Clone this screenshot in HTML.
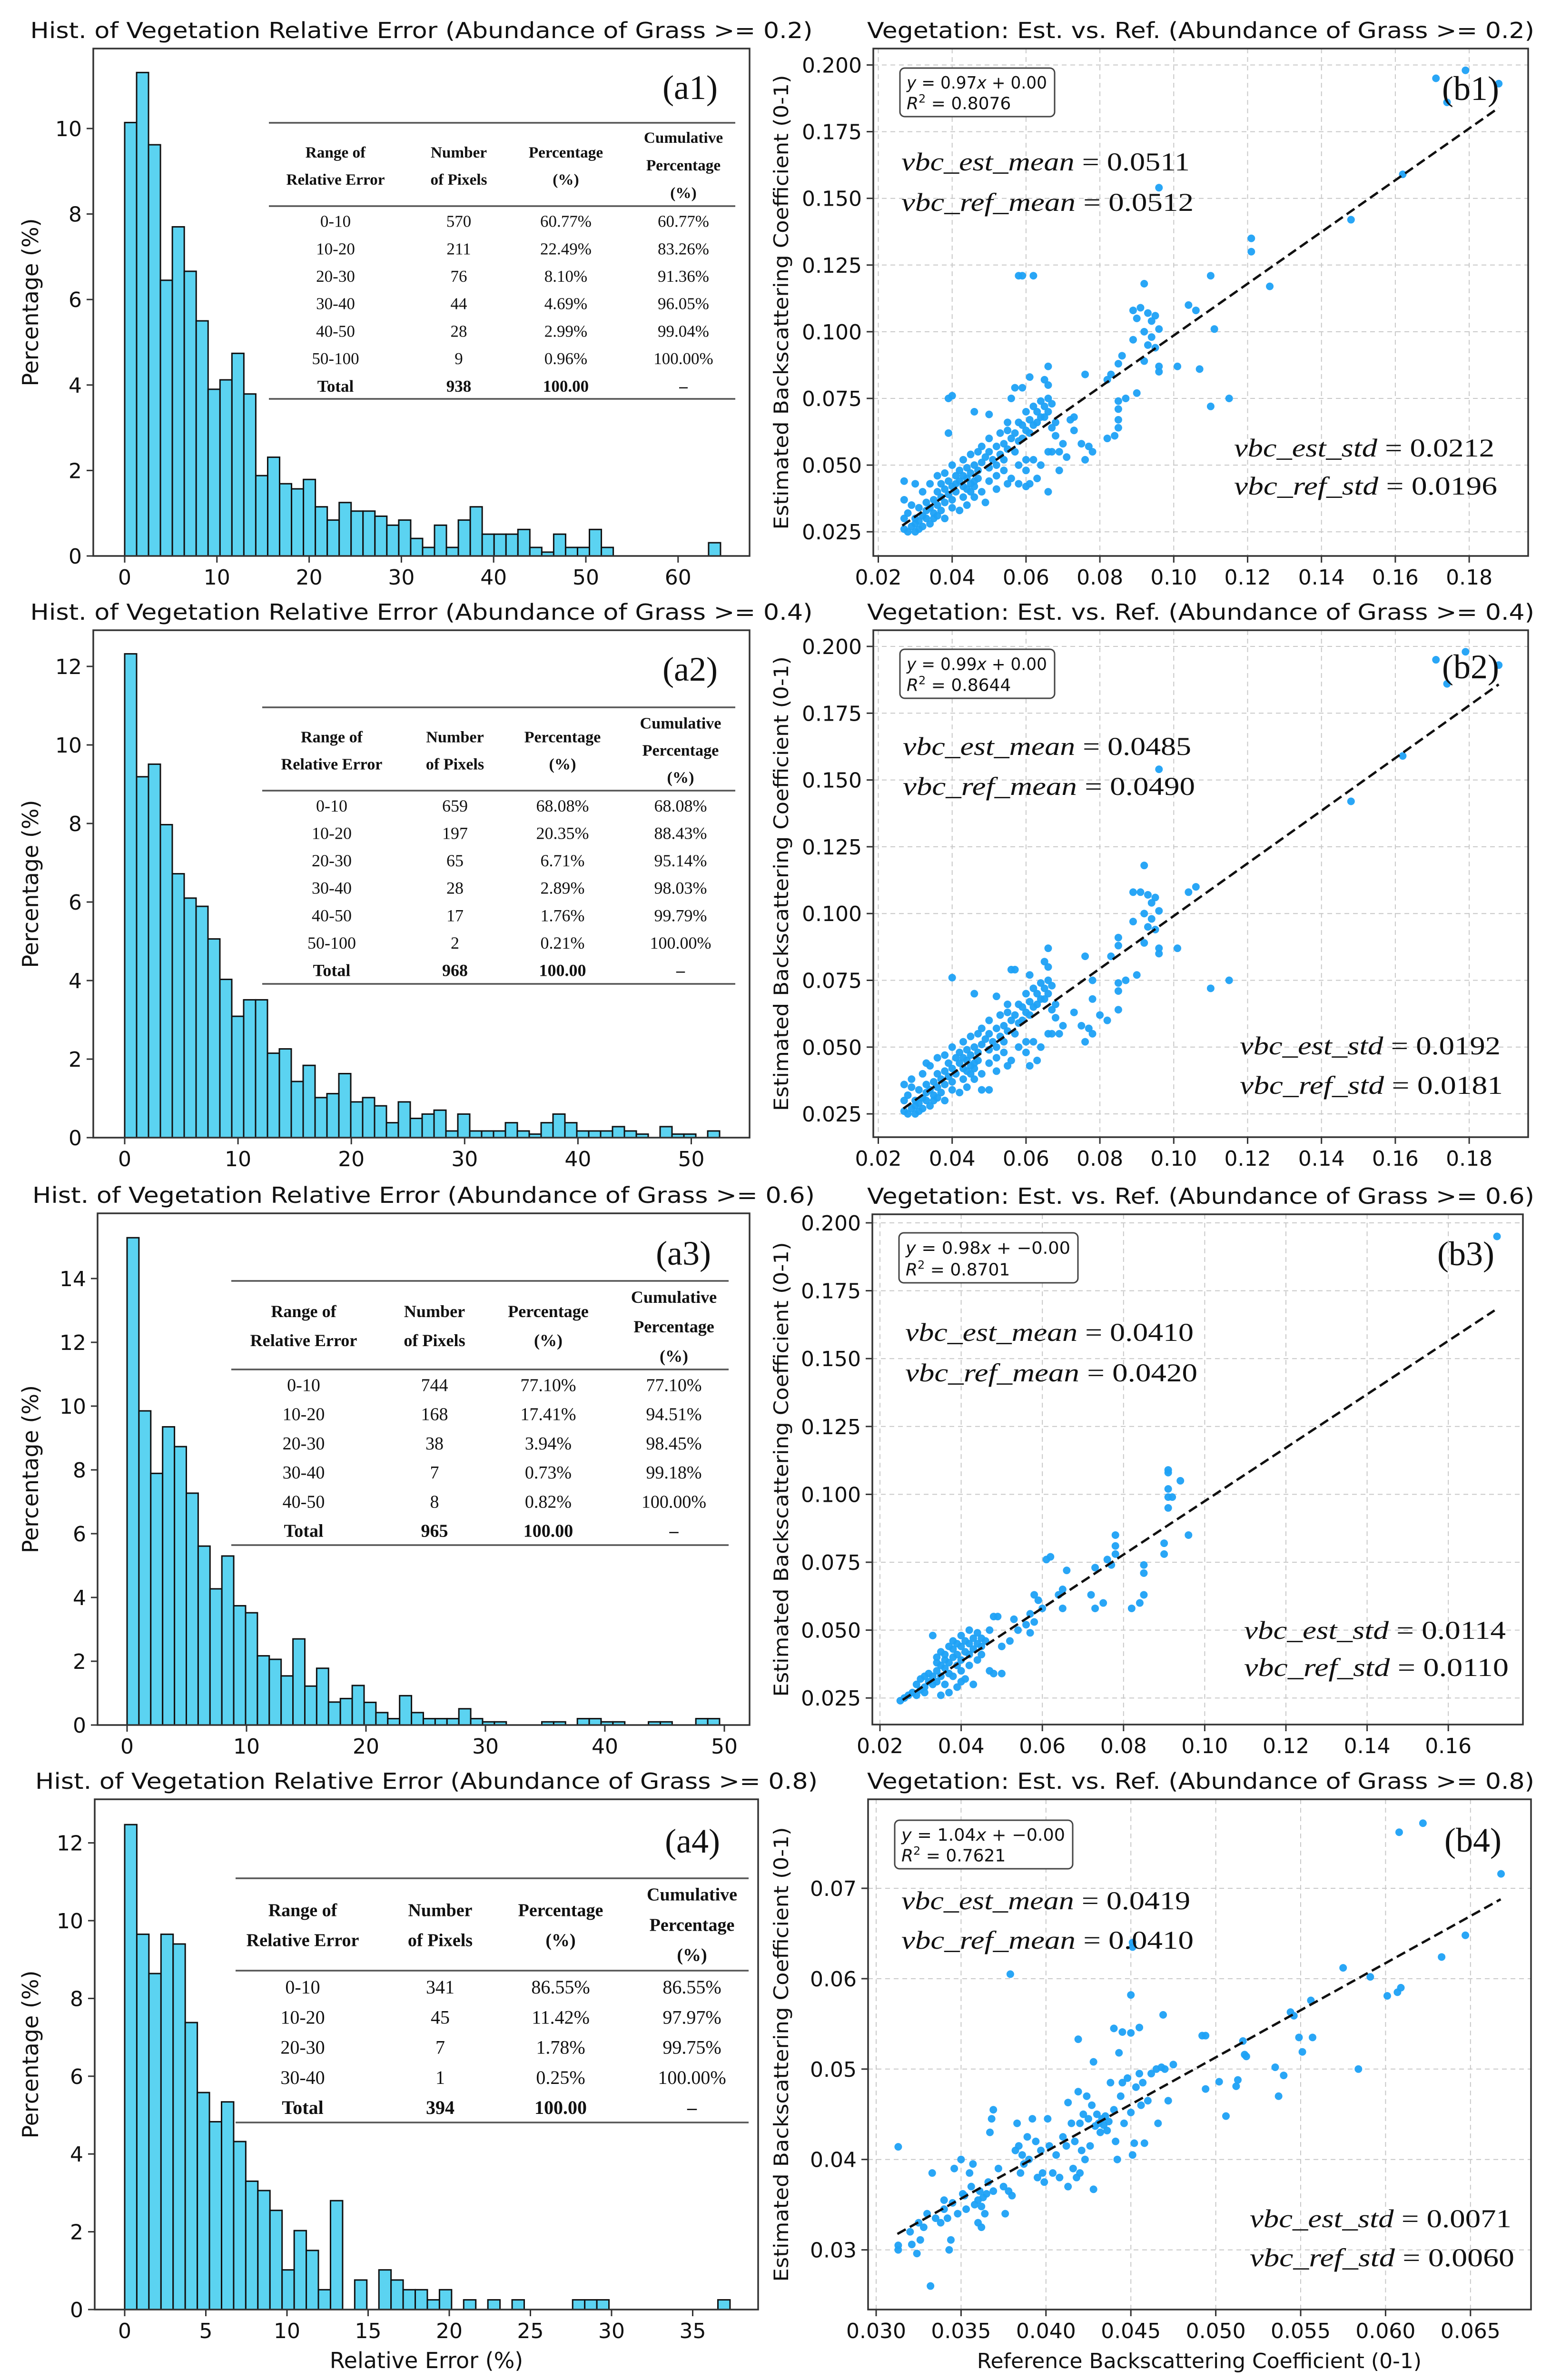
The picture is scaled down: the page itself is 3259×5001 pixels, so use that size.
<!DOCTYPE html>
<html><head><meta charset="utf-8"><style>
html,body{margin:0;padding:0;background:#fff;width:3259px;height:5001px;overflow:hidden;}
svg{display:block;}
text{font-family:"DejaVu Sans","Liberation Sans",sans-serif;fill:#111;}
.serif{font-family:"Liberation Serif","DejaVu Serif",serif;}
</style></head><body>
<svg id="fig" xmlns="http://www.w3.org/2000/svg" width="3259" height="5001" viewBox="0 0 3259 5001"></svg>
<script>
// ---------- histogram data (percentage per bin) ----------
const hist1Values = [10.14,11.31,9.62,6.45,7.70,6.66,5.50,3.90,4.12,4.74,3.79,1.88,2.31,1.69,1.57,1.79,1.15,0.84,1.25,1.05,1.05,0.93,0.72,0.84,0.41,0.20,0.72,0.20,0.84,1.15,0.51,0.51,0.51,0.62,0.20,0.09,0.51,0.20,0.20,0.62,0.20,0,0,0,0,0,0,0,0,0.31];
const hist1MaxError = 64.6;
const hist2Values = [12.32,9.19,9.51,7.97,6.72,6.10,5.89,5.06,4.03,3.09,3.51,3.51,2.15,2.26,1.43,1.84,1.02,1.12,1.63,0.91,1.02,0.81,0.38,0.91,0.49,0.60,0.70,0.17,0.60,0.17,0.17,0.17,0.38,0.17,0.09,0.38,0.60,0.38,0.17,0.17,0.17,0.28,0.17,0.09,0,0.28,0.09,0.09,0,0.17];
const hist2MaxError = 52.5;
const hist3Values = [15.28,9.85,7.89,9.35,8.73,7.27,5.61,4.27,5.30,3.74,3.52,2.17,2.06,1.54,2.70,1.22,1.78,0.72,0.83,1.24,0.71,0.39,0.20,0.92,0.39,0.20,0.20,0.20,0.51,0.20,0.10,0.10,0,0,0,0.10,0.10,0,0.20,0.20,0.10,0.10,0,0,0.10,0.10,0,0,0.20,0.20];
const hist3MaxError = 49.6;
const hist4Values = [12.47,9.65,8.64,9.65,9.40,7.38,5.58,4.83,5.34,4.32,3.30,3.06,2.55,1.02,2.03,1.52,0.51,2.80,0,0.76,0,1.02,0.76,0.51,0.51,0.25,0.51,0,0.25,0,0.25,0,0.25,0,0,0,0,0.25,0.25,0.25,0,0,0,0,0,0,0,0,0,0.25];
const hist4MaxError = 37.3;
const hist1XTicks = [0,10,20,30,40,50,60];
const hist2XTicks = [0,10,20,30,40,50];
const hist3XTicks = [0,10,20,30,40,50];
const hist4XTicks = [0,5,10,15,20,25,30,35];
const hist1YTicks = [0,2,4,6,8,10];
const hist2YTicks = [0,2,4,6,8,10,12];
const hist3YTicks = [0,2,4,6,8,10,12,14];
const hist4YTicks = [0,2,4,6,8,10,12];

// ---------- tables ----------
const table1Ranges = ['0-10','10-20','20-30','30-40','40-50','50-100','Total'];
const table1Counts = ['570','211','76','44','28','9','938'];
const table1Pct = ['60.77%','22.49%','8.10%','4.69%','2.99%','0.96%','100.00'];
const table1Cum = ['60.77%','83.26%','91.36%','96.05%','99.04%','100.00%','\u2013'];
const table2Ranges = ['0-10','10-20','20-30','30-40','40-50','50-100','Total'];
const table2Counts = ['659','197','65','28','17','2','968'];
const table2Pct = ['68.08%','20.35%','6.71%','2.89%','1.76%','0.21%','100.00'];
const table2Cum = ['68.08%','88.43%','95.14%','98.03%','99.79%','100.00%','\u2013'];
const table3Ranges = ['0-10','10-20','20-30','30-40','40-50','Total'];
const table3Counts = ['744','168','38','7','8','965'];
const table3Pct = ['77.10%','17.41%','3.94%','0.73%','0.82%','100.00'];
const table3Cum = ['77.10%','94.51%','98.45%','99.18%','100.00%','\u2013'];
const table4Ranges = ['0-10','10-20','20-30','30-40','Total'];
const table4Counts = ['341','45','7','1','394'];
const table4Pct = ['86.55%','11.42%','1.78%','0.25%','100.00'];
const table4Cum = ['86.55%','97.97%','99.75%','100.00%','\u2013'];

// ---------- scatter data: [reference, estimated] ----------
const scatter1Points = [[0.171,0.195],[0.179,0.198],[0.174,0.186],[0.188,0.193],[0.162,0.159],[0.148,0.142],[0.096,0.154],[0.121,0.135],[0.121,0.130],[0.126,0.117],[0.110,0.121],[0.058,0.121],[0.059,0.121],[0.062,0.121],[0.092,0.118],[0.104,0.110],[0.106,0.108],[0.111,0.101],[0.101,0.087],[0.107,0.086],[0.110,0.072],[0.115,0.075],[0.096,0.085],[0.096,0.087],[0.089,0.108],[0.090,0.105],[0.091,0.109],[0.093,0.107],[0.094,0.104],[0.095,0.106],[0.092,0.100],[0.094,0.098],[0.096,0.101],[0.093,0.095],[0.095,0.094],[0.089,0.097],[0.092,0.089],[0.086,0.091],[0.085,0.088],[0.083,0.084],[0.082,0.082],[0.076,0.084],[0.085,0.074],[0.085,0.071],[0.085,0.067],[0.085,0.064],[0.084,0.061],[0.082,0.060],[0.087,0.075],[0.090,0.077],[0.077,0.057],[0.078,0.055],[0.076,0.052],[0.073,0.063],[0.073,0.068],[0.072,0.067],[0.075,0.058],[0.069,0.048],[0.066,0.040],[0.066,0.087],[0.065,0.082],[0.066,0.080],[0.061,0.083],[0.059,0.079],[0.057,0.079],[0.056,0.075],[0.040,0.076],[0.039,0.075],[0.046,0.070],[0.050,0.069],[0.039,0.062],[0.030,0.043],[0.027,0.044],[0.069,0.055],[0.067,0.055],[0.063,0.045],[0.061,0.043],[0.060,0.042],
[0.027,0.026],[0.028,0.025],[0.029,0.027],[0.030,0.028],[0.027,0.030],[0.028,0.032],[0.030,0.030],[0.031,0.029],[0.032,0.031],[0.033,0.033],[0.031,0.034],[0.029,0.035],[0.027,0.037],[0.033,0.036],[0.034,0.034],[0.035,0.037],[0.036,0.035],[0.035,0.032],[0.037,0.038],[0.038,0.036],[0.036,0.040],[0.038,0.041],[0.039,0.039],[0.040,0.042],[0.041,0.040],[0.040,0.037],[0.042,0.044],[0.043,0.042],[0.041,0.046],[0.042,0.048],[0.043,0.046],[0.044,0.045],[0.045,0.047],[0.044,0.049],[0.045,0.043],[0.046,0.050],[0.047,0.048],[0.046,0.044],[0.048,0.051],[0.049,0.053],[0.050,0.049],[0.050,0.055],[0.051,0.052],[0.052,0.057],[0.053,0.054],[0.052,0.050],[0.054,0.058],[0.055,0.056],[0.054,0.052],[0.056,0.060],[0.055,0.063],[0.057,0.062],[0.058,0.059],[0.057,0.055],[0.059,0.065],[0.060,0.063],[0.059,0.060],[0.061,0.067],[0.062,0.065],[0.061,0.062],[0.063,0.070],[0.064,0.068],[0.063,0.066],[0.065,0.072],[0.066,0.070],[0.065,0.068],[0.066,0.075],[0.067,0.073],[0.064,0.074],[0.062,0.072],[0.060,0.070],[0.058,0.066],[0.055,0.066],[0.053,0.062],[0.050,0.060],[0.048,0.057],[0.047,0.055],[0.045,0.054],[0.043,0.052],[0.040,0.050],[0.038,0.047],[0.036,0.046],[0.034,0.043],[0.032,0.040],[0.050,0.044],[0.052,0.046],[0.054,0.048],[0.056,0.045],[0.058,0.050],[0.060,0.048],[0.062,0.052],[0.064,0.050],[0.066,0.055],[0.060,0.052],[0.058,0.043],[0.048,0.040],[0.046,0.038],[0.044,0.035],[0.042,0.033],[0.040,0.034],[0.038,0.030],[0.036,0.031],[0.034,0.028],[0.032,0.027],[0.030,0.025],[0.049,0.036],[0.052,0.041],[0.055,0.043],[0.043,0.038],[0.039,0.044],[0.037,0.043],[0.067,0.064],[0.068,0.061],[0.070,0.058],[0.071,0.053],[0.068,0.066],[0.044,0.041],[0.046,0.042],[0.047,0.045],[0.045,0.040],[0.041,0.043],[0.037,0.033],[0.035,0.030],[0.033,0.030],[0.031,0.026]];
const scatter2Points = [[0.171,0.195],[0.179,0.198],[0.174,0.186],[0.188,0.193],[0.162,0.159],[0.148,0.142],[0.096,0.154],[0.092,0.118],[0.104,0.108],[0.106,0.110],[0.101,0.087],[0.110,0.072],[0.115,0.075],[0.096,0.085],[0.096,0.087],[0.089,0.108],[0.091,0.108],[0.093,0.107],[0.094,0.104],[0.095,0.106],[0.092,0.100],[0.094,0.098],[0.096,0.101],[0.093,0.095],[0.095,0.094],[0.089,0.097],[0.092,0.089],[0.085,0.091],[0.085,0.088],[0.083,0.084],[0.076,0.084],[0.085,0.074],[0.085,0.071],[0.085,0.064],[0.087,0.075],[0.090,0.077],[0.077,0.057],[0.078,0.055],[0.076,0.052],[0.073,0.063],[0.078,0.075],[0.078,0.068],[0.075,0.058],[0.066,0.087],[0.065,0.082],[0.066,0.080],[0.061,0.077],[0.057,0.079],[0.056,0.079],[0.040,0.076],[0.046,0.070],[0.052,0.069],[0.029,0.038],[0.027,0.036],[0.033,0.044],[0.069,0.055],[0.067,0.055],[0.063,0.045],[0.061,0.043],[0.048,0.034],[0.050,0.034],[0.082,0.060],[0.080,0.062],
[0.027,0.026],[0.028,0.025],[0.029,0.027],[0.030,0.028],[0.027,0.030],[0.028,0.032],[0.030,0.030],[0.031,0.029],[0.032,0.031],[0.033,0.033],[0.031,0.034],[0.029,0.035],[0.033,0.036],[0.034,0.034],[0.035,0.037],[0.036,0.035],[0.035,0.032],[0.037,0.038],[0.038,0.036],[0.036,0.040],[0.038,0.041],[0.039,0.039],[0.040,0.042],[0.041,0.040],[0.040,0.037],[0.042,0.044],[0.043,0.042],[0.041,0.046],[0.042,0.048],[0.043,0.046],[0.044,0.045],[0.045,0.047],[0.044,0.049],[0.045,0.043],[0.046,0.050],[0.047,0.048],[0.046,0.044],[0.048,0.051],[0.049,0.053],[0.050,0.049],[0.050,0.055],[0.051,0.052],[0.052,0.057],[0.053,0.054],[0.052,0.050],[0.054,0.058],[0.055,0.056],[0.054,0.052],[0.056,0.060],[0.055,0.063],[0.057,0.062],[0.058,0.059],[0.057,0.055],[0.059,0.065],[0.060,0.063],[0.059,0.060],[0.061,0.067],[0.062,0.065],[0.061,0.062],[0.063,0.070],[0.064,0.068],[0.063,0.066],[0.065,0.072],[0.066,0.070],[0.065,0.068],[0.066,0.075],[0.067,0.073],[0.064,0.074],[0.062,0.072],[0.060,0.070],[0.058,0.066],[0.055,0.066],[0.053,0.062],[0.050,0.060],[0.048,0.057],[0.047,0.055],[0.045,0.054],[0.043,0.052],[0.040,0.050],[0.038,0.047],[0.036,0.046],[0.034,0.043],[0.032,0.040],[0.050,0.044],[0.052,0.046],[0.054,0.048],[0.056,0.045],[0.058,0.050],[0.060,0.048],[0.062,0.052],[0.064,0.050],[0.066,0.055],[0.060,0.052],[0.048,0.040],[0.046,0.038],[0.044,0.035],[0.042,0.033],[0.040,0.034],[0.038,0.030],[0.036,0.031],[0.034,0.028],[0.032,0.027],[0.030,0.025],[0.052,0.041],[0.055,0.043],[0.043,0.038],[0.039,0.044],[0.067,0.064],[0.068,0.061],[0.070,0.058],[0.068,0.066],[0.044,0.041],[0.046,0.042],[0.047,0.045],[0.045,0.040],[0.037,0.033],[0.035,0.030],[0.033,0.030],[0.031,0.026]];
const scatter3Points = [[0.172,0.195],[0.091,0.109],[0.091,0.108],[0.094,0.105],[0.091,0.102],[0.091,0.099],[0.092,0.099],[0.091,0.095],[0.096,0.085],[0.090,0.082],[0.090,0.078],[0.078,0.085],[0.078,0.081],[0.076,0.076],[0.077,0.074],[0.078,0.078],[0.073,0.073],[0.085,0.074],[0.085,0.071],[0.085,0.063],[0.084,0.060],[0.082,0.058],[0.072,0.063],[0.073,0.058],[0.075,0.060],[0.066,0.072],[0.065,0.065],[0.064,0.063],[0.065,0.058],[0.062,0.077],[0.061,0.076],[0.060,0.058],[0.059,0.061],[0.058,0.063],[0.057,0.056],[0.056,0.052],[0.058,0.053],[0.057,0.049],[0.053,0.054],[0.054,0.050],[0.052,0.046],[0.050,0.044],[0.048,0.055],[0.049,0.055],[0.050,0.034],[0.048,0.034],[0.047,0.035],[0.045,0.047],[0.047,0.050],
[0.025,0.024],[0.026,0.025],[0.027,0.026],[0.028,0.027],[0.029,0.026],[0.030,0.028],[0.029,0.030],[0.031,0.029],[0.032,0.031],[0.031,0.027],[0.033,0.030],[0.032,0.034],[0.033,0.033],[0.034,0.035],[0.035,0.033],[0.034,0.031],[0.035,0.037],[0.036,0.036],[0.036,0.039],[0.037,0.038],[0.037,0.034],[0.038,0.040],[0.038,0.043],[0.039,0.041],[0.039,0.037],[0.040,0.044],[0.040,0.039],[0.041,0.042],[0.041,0.046],[0.042,0.045],[0.042,0.041],[0.043,0.047],[0.043,0.043],[0.044,0.049],[0.044,0.045],[0.045,0.044],[0.046,0.046],[0.034,0.040],[0.035,0.042],[0.037,0.044],[0.038,0.046],[0.033,0.048],[0.036,0.030],[0.038,0.033],[0.040,0.035],[0.042,0.037],[0.041,0.032],[0.039,0.029],[0.037,0.027],[0.035,0.026],[0.043,0.030],[0.040,0.031],[0.031,0.033],[0.030,0.032],[0.034,0.038],[0.036,0.041],[0.039,0.045],[0.040,0.048],[0.042,0.050],[0.044,0.039],[0.045,0.041]];
const scatter4Points = [[0.0608,0.0762],[0.0622,0.0772],[0.0668,0.0716],[0.0647,0.0648],[0.0633,0.0624],[0.0575,0.0612],[0.0591,0.0602],[0.0609,0.0590],[0.0607,0.0585],[0.0601,0.0581],[0.0556,0.0576],[0.0544,0.0563],[0.0546,0.0559],[0.0584,0.0500],[0.0551,0.0519],[0.0549,0.0535],[0.0557,0.0535],[0.0535,0.0502],[0.0540,0.0493],[0.0537,0.0470],[0.0517,0.0516],[0.0518,0.0514],[0.0516,0.0531],[0.0512,0.0481],[0.0513,0.0488],[0.0502,0.0486],[0.0506,0.0448],[0.0494,0.0478],[0.0492,0.0537],[0.0494,0.0537],[0.0451,0.0635],[0.0451,0.0640],[0.0450,0.0582],[0.0379,0.0605],[0.0469,0.0560],[0.0419,0.0533],[0.0440,0.0545],[0.0445,0.0541],[0.0450,0.0540],[0.0455,0.0546],[0.0443,0.0518],[0.0313,0.0414],[0.0333,0.0385],[0.0332,0.0260],[0.0343,0.0300],[0.0313,0.0300],[0.0313,0.0305],[0.0324,0.0296],[0.0321,0.0306],[0.0326,0.0311],[0.0344,0.0311],
[0.0320,0.0320],[0.0325,0.0330],[0.0330,0.0340],[0.0328,0.0325],[0.0335,0.0335],[0.0340,0.0345],[0.0342,0.0335],[0.0345,0.0352],[0.0348,0.0340],[0.0350,0.0400],[0.0352,0.0360],[0.0355,0.0385],[0.0356,0.0370],[0.0358,0.0350],[0.0360,0.0355],[0.0361,0.0365],[0.0362,0.0348],[0.0363,0.0358],[0.0364,0.0340],[0.0365,0.0362],[0.0360,0.0330],[0.0357,0.0395],[0.0366,0.0375],[0.0368,0.0445],[0.0369,0.0455],[0.0367,0.0430],[0.0372,0.0390],[0.0375,0.0370],[0.0378,0.0365],[0.0380,0.0360],[0.0382,0.0410],[0.0383,0.0440],[0.0384,0.0415],[0.0385,0.0385],[0.0386,0.0405],[0.0387,0.0395],[0.0389,0.0425],[0.0390,0.0400],[0.0392,0.0445],[0.0394,0.0420],[0.0395,0.0380],[0.0397,0.0410],[0.0399,0.0375],[0.0401,0.0445],[0.0402,0.0415],[0.0404,0.0385],[0.0406,0.0405],[0.0408,0.0380],[0.0410,0.0425],[0.0412,0.0415],[0.0413,0.0463],[0.0415,0.0440],[0.0416,0.0390],[0.0417,0.0420],[0.0418,0.0380],[0.0419,0.0475],[0.0420,0.0440],[0.0421,0.0410],[0.0422,0.0450],[0.0423,0.0400],[0.0424,0.0470],[0.0425,0.0445],[0.0426,0.0415],[0.0427,0.0460],[0.0428,0.0508],[0.0429,0.0437],[0.0430,0.0450],[0.0431,0.0440],[0.0432,0.0430],[0.0433,0.0445],[0.0434,0.0438],[0.0435,0.0448],[0.0436,0.0432],[0.0437,0.0442],[0.0438,0.0485],[0.0440,0.0455],[0.0441,0.0420],[0.0442,0.0400],[0.0444,0.0470],[0.0445,0.0485],[0.0446,0.0440],[0.0448,0.0490],[0.0450,0.0452],[0.0451,0.0405],[0.0452,0.0418],[0.0453,0.0480],[0.0455,0.0495],[0.0456,0.0460],[0.0457,0.0485],[0.0458,0.0418],[0.0460,0.0465],[0.0462,0.0495],[0.0465,0.0500],[0.0466,0.0440],[0.0468,0.0502],[0.0470,0.0500],[0.0472,0.0465],[0.0475,0.0505],[0.0428,0.0367],[0.0420,0.0385],[0.0413,0.0370],[0.0398,0.0385],[0.0376,0.0340],[0.0369,0.0365],[0.0362,0.0325],[0.0340,0.0355],[0.0338,0.0330],[0.0353,0.0345],[0.0346,0.0390],[0.0351,0.0362]];
const fit1Slope = 0.97, fit1Intercept = 0.0016, fit1XRange = [0.0265, 0.188];
const fit2Slope = 0.985, fit2Intercept = 0.0006, fit2XRange = [0.0268, 0.188];
const fit3Slope = 0.984, fit3Intercept = -0.0009, fit3XRange = [0.0256, 0.1714];
const fit4Slope = 1.042, fit4Intercept = -0.0008, fit4XRange = [0.03125, 0.06678];
const scatterTicksX12 = [0.02,0.04,0.06,0.08,0.10,0.12,0.14,0.16,0.18];
const scatterTicksX3 = [0.02,0.04,0.06,0.08,0.10,0.12,0.14,0.16];
const scatterTicksY123 = [0.025,0.050,0.075,0.100,0.125,0.150,0.175,0.200];
const scatterTicksX4 = [0.030,0.035,0.040,0.045,0.050,0.055,0.060,0.065];
const scatterTicksY4 = [0.03,0.04,0.05,0.06,0.07];

const NS = 'http://www.w3.org/2000/svg';
const svg = document.getElementById('fig');
function mk(tag, attrs, parent){
  const e = document.createElementNS(NS, tag);
  for (const k in attrs) e.setAttribute(k, attrs[k]);
  (parent || svg).appendChild(e);
  return e;
}
function txt(s, attrs, parent){ const e = mk('text', attrs, parent); e.textContent = s; return e; }

// ---------- histogram panels ----------
function histPanel(cfg, vals, maxErr, xticks, yticks, tbl, id){
  const g = mk('g', {});
  
  
  const sx = v => cfg.x0 + v * cfg.xPer;
  const sy = v => cfg.yBase - v * cfg.yPer;
  const binW = maxErr / vals.length;
  for (let i = 0; i < vals.length; i++) {
    if (vals[i] <= 0) continue;
    const x = sx(i * binW), x2 = sx((i + 1) * binW), y = sy(vals[i]);
    const r = mk('rect', {x: x, y: y, width: x2 - x, height: cfg.yBase - y, fill: '#5bd3f1', stroke: '#111', 'stroke-width': 3}, g);
    
    
  }
  const box = mk('rect', {x: cfg.box[0], y: cfg.box[1], width: cfg.box[2]-cfg.box[0], height: cfg.box[3]-cfg.box[1], fill: 'none', stroke: '#333', 'stroke-width': 3.5}, g);
  
  
  xticks.forEach(t => {
    const x = sx(t);
    const tk = mk('line', {x1: x, x2: x, y1: cfg.box[3], y2: cfg.box[3] + 14, stroke: '#333', 'stroke-width': 3}, g);
    
    
    const lb = txt(String(t), {x: x, y: cfg.box[3] + 60, 'text-anchor': 'middle', 'font-size': 44}, g);
    
    
  });
  yticks.forEach(t => {
    const y = sy(t);
    const tk = mk('line', {x1: cfg.box[0] - 14, x2: cfg.box[0], y1: y, y2: y, stroke: '#333', 'stroke-width': 3}, g);
    
    
    const lb = txt(String(t), {x: cfg.box[0] - 24, y: y + 16, 'text-anchor': 'end', 'font-size': 44}, g);
    
    
  });
  const yl = txt('Percentage (%)', {x: 0, y: 0, 'text-anchor': 'middle', 'font-size': 46, transform: 'translate(' + (cfg.ylabX) + ',' + ((cfg.box[1]+cfg.box[3])/2) + ') rotate(-90)'}, g);
  
  
  const ti = txt(cfg.title, {x: (cfg.box[0]+cfg.box[2])/2, y: cfg.box[1] - 22, 'text-anchor': 'middle', 'font-size': 46, textLength: 1644, lengthAdjust: 'spacingAndGlyphs'}, g);
  
  
  const pl = txt(cfg.panel, {x: cfg.panelPos[0], y: cfg.panelPos[1], 'text-anchor': 'end', 'font-size': 72, class: 'serif'}, g);
  
  
  // table
  const T = cfg.table;
  const tg = mk('g', {class: 'serif'}, g);
  
  
  [T.top, T.hdr, T.bottom].forEach(y => {
    const l = mk('line', {x1: T.x0, x2: T.x1, y1: y, y2: y, stroke: '#555', 'stroke-width': 3.5}, tg);
    
    
  });
  const hs = T.fs * 0.95;
  const heads = [['Range of','Relative Error'],['Number','of Pixels'],['Percentage','(%)'],['Cumulative','Percentage','(%)']];
  heads.forEach((lines, c) => {
    const ys = lines.length === 2 ? T.hdr2 : T.hdr3;
    lines.forEach((s, k) => {
      const h = txt(s, {x: T.cols[c], y: ys[k] + hs*0.33, 'text-anchor': 'middle', 'font-size': hs, 'font-weight': 'bold', class: 'serif'}, tg);
      
      
    });
  });
  const cols = [tbl[0], tbl[1], tbl[2], tbl[3]];
  for (let r = 0; r < tbl[0].length; r++) {
    const last = r === tbl[0].length - 1;
    const y = T.row0 + r * T.step + T.fs * 0.33;
    cols.forEach((arr, c) => {
      const cell = txt(arr[r], {x: T.cols[c], y: y, 'text-anchor': 'middle', 'font-size': T.fs, 'font-weight': last ? 'bold' : 'normal', class: 'serif', fill: '#222'}, tg);
      
      
    });
  }
}

histPanel({box:[196,102,1575,1168], x0:262, xPer:19.38, yBase:1168, yPer:89.8, ylabX:80,
  title:'Hist. of Vegetation Relative Error (Abundance of Grass >= 0.2)', panel:'(a1)', panelPos:[1508,208],
  table:{top:258, hdr:433, bottom:838, x0:565, x1:1545, cols:[705,964,1189,1436], hdr2:[320,377], hdr3:[289,347,405], row0:465, step:57.7, fs:35}},
  hist1Values, hist1MaxError, hist1XTicks, hist1YTicks, [table1Ranges, table1Counts, table1Pct, table1Cum], 'a1');
histPanel({box:[196,1324,1575,2390], x0:262, xPer:23.81, yBase:2390, yPer:82.5, ylabX:80,
  title:'Hist. of Vegetation Relative Error (Abundance of Grass >= 0.4)', panel:'(a2)', panelPos:[1508,1430],
  table:{top:1486, hdr:1661, bottom:2067, x0:551, x1:1545, cols:[697,956,1182,1430], hdr2:[1548,1605], hdr3:[1519,1576,1633], row0:1693, step:57.6, fs:36}},
  hist2Values, hist2MaxError, hist2XTicks, hist2YTicks, [table2Ranges, table2Counts, table2Pct, table2Cum], 'a2');
histPanel({box:[205,2549,1575,3624], x0:267, xPer:25.1, yBase:3624, yPer:67.0, ylabX:80,
  title:'Hist. of Vegetation Relative Error (Abundance of Grass >= 0.6)', panel:'(a3)', panelPos:[1494,2657],
  table:{top:2691, hdr:2877, bottom:3246, x0:486, x1:1531, cols:[638,913,1152,1416], hdr2:[2755,2816], hdr3:[2725,2787,2849], row0:2910, step:61.2, fs:38}},
  hist3Values, hist3MaxError, hist3XTicks, hist3YTicks, [table3Ranges, table3Counts, table3Pct, table3Cum], 'a3');
histPanel({box:[199,3780,1593,4852], x0:262, xPer:34.1, yBase:4852, yPer:81.7, ylabX:80,
  title:'Hist. of Vegetation Relative Error (Abundance of Grass >= 0.8)', panel:'(a4)', panelPos:[1513,3892],
  table:{top:3946, hdr:4140, bottom:4459, x0:495, x1:1573, cols:[636,925,1178,1454], hdr2:[4013,4076], hdr3:[3980,4044,4107], row0:4175, step:63.2, fs:40}},
  hist4Values, hist4MaxError, hist4XTicks, hist4YTicks, [table4Ranges, table4Counts, table4Pct, table4Cum], 'a4');

const xl = txt('Relative Error (%)', {x: 896, y: 4975, 'text-anchor': 'middle', 'font-size': 46});



// ---------- scatter panels ----------
function scatterPanel(cfg, pts, slope, icpt, xr, xticks, yticks, xdec, ydec, id){
  const g = mk('g', {});
  
  
  const sx = v => cfg.xRef + (v - cfg.xRefV) * cfg.xPer;
  const sy = v => cfg.yRef - (v - cfg.yRefV) * cfg.yPer;
  const B = cfg.box;
  xticks.forEach(t => {
    const x = sx(t);
    const gl = mk('line', {x1: x, x2: x, y1: B[1], y2: B[3], stroke: '#c8c8c8', 'stroke-width': 2, 'stroke-dasharray': '10 8'}, g);
    
    
    const tk = mk('line', {x1: x, x2: x, y1: B[3], y2: B[3] + 14, stroke: '#333', 'stroke-width': 3}, g);
    
    
    const lb = txt(t.toFixed(xdec), {x: x, y: B[3] + 60, 'text-anchor': 'middle', 'font-size': 44}, g);
    
    
  });
  yticks.forEach(t => {
    const y = sy(t);
    const gl = mk('line', {x1: B[0], x2: B[2], y1: y, y2: y, stroke: '#c8c8c8', 'stroke-width': 2, 'stroke-dasharray': '10 8'}, g);
    
    
    const tk = mk('line', {x1: B[0] - 14, x2: B[0], y1: y, y2: y, stroke: '#333', 'stroke-width': 3}, g);
    
    
    const lb = txt(t.toFixed(ydec), {x: B[0] - 24, y: y + 16, 'text-anchor': 'end', 'font-size': 44}, g);
    
    
  });
  pts.forEach(p => {
    const c = mk('circle', {cx: sx(p[0]), cy: sy(p[1]), r: 8, fill: '#1ea1f5', 'fill-opacity': 0.95}, g);
    
    
  });
  const fl = mk('line', {x1: sx(xr[0]), y1: sy(slope*xr[0]+icpt), x2: sx(xr[1]), y2: sy(slope*xr[1]+icpt), stroke: '#111', 'stroke-width': 5, 'stroke-dasharray': '20 10'}, g);
  
  
  const box = mk('rect', {x: B[0], y: B[1], width: B[2]-B[0], height: B[3]-B[1], fill: 'none', stroke: '#333', 'stroke-width': 3.5}, g);
  
  
  const yl = txt('Estimated Backscattering Coefficient (0-1)', {x: 0, y: 0, 'text-anchor': 'middle', 'font-size': 42, textLength: 955, lengthAdjust: 'spacingAndGlyphs', transform: 'translate(1656,' + ((B[1]+B[3])/2) + ') rotate(-90)'}, g);
  
  
  const ti = txt(cfg.title, {x: 2523, y: B[1] - 22, 'text-anchor': 'middle', 'font-size': 46, textLength: 1402, lengthAdjust: 'spacingAndGlyphs'}, g);
  
  
  const pl = txt(cfg.panel, {x: cfg.panelPos[0], y: cfg.panelPos[1], 'text-anchor': 'end', 'font-size': 72, class: 'serif'}, g);
  
  
  // equation box
  const E = cfg.eq;
  const eb = mk('rect', {x: E[0], y: E[1], width: E[2]-E[0], height: E[3]-E[1], rx: 10, fill: '#fff', stroke: '#444', 'stroke-width': 3}, g);
  
  
  const h = E[3] - E[1];
  const e1 = txt('', {x: E[0] + 14, y: E[1] + h*0.42, 'font-size': 36, textLength: E[2]-E[0]-30, lengthAdjust: 'spacingAndGlyphs'}, g);
  
  
  const t1 = mk('tspan', {'font-style': 'italic'}, e1); t1.textContent = 'y';
  const t2 = mk('tspan', {}, e1); t2.textContent = ' = ' + cfg.eqSlope;
  const t3 = mk('tspan', {'font-style': 'italic'}, e1); t3.textContent = 'x';
  const t4 = mk('tspan', {}, e1); t4.textContent = cfg.eqTail;
  const e2 = txt('', {x: E[0] + 14, y: E[1] + h*0.85, 'font-size': 36}, g);
  
  
  const r1 = mk('tspan', {'font-style': 'italic'}, e2); r1.textContent = 'R';
  const r2 = mk('tspan', {'font-size': 24, dy: -14}, e2); r2.textContent = '2';
  const r3 = mk('tspan', {dy: 14}, e2); r3.textContent = ' = ' + cfg.r2;
  // stats
  cfg.stats.forEach(s => {
    const st = txt('', {x: s.x, y: s.y, 'font-size': 54, class: 'serif', textLength: s.w, lengthAdjust: 'spacingAndGlyphs'}, g);
    
    
    const a = mk('tspan', {'font-style': 'italic'}, st); a.textContent = s.name;
    const b = mk('tspan', {}, st); b.textContent = ' = ' + s.val;
  });
}

scatterPanel({box:[1835,102,3211,1168], xRef:1845.5, xRefV:0.02, xPer:7760, yRef:136.5, yRefV:0.2, yPer:5604,
  title:'Vegetation: Est. vs. Ref. (Abundance of Grass >= 0.2)', panel:'(b1)', panelPos:[3150,210],
  eq:[1891,143,2216,245], eqSlope:'0.97', eqTail:' + 0.00', r2:'0.8076',
  stats:[{x:1894,y:358,w:606,name:'vbc_est_mean',val:'0.0511'},{x:1894,y:443,w:614,name:'vbc_ref_mean',val:'0.0512'},
         {x:2593,y:959,w:547,name:'vbc_est_std',val:'0.0212'},{x:2593,y:1039,w:553,name:'vbc_ref_std',val:'0.0196'}]},
  scatter1Points, fit1Slope, fit1Intercept, fit1XRange, scatterTicksX12, scatterTicksY123, 2, 3, 'b1');
scatterPanel({box:[1835,1324,3211,2389], xRef:1845.5, xRefV:0.02, xPer:7760, yRef:1358, yRefV:0.2, yPer:5612,
  title:'Vegetation: Est. vs. Ref. (Abundance of Grass >= 0.4)', panel:'(b2)', panelPos:[3150,1425],
  eq:[1891,1364,2216,1467], eqSlope:'0.99', eqTail:' + 0.00', r2:'0.8644',
  stats:[{x:1897,y:1586,w:606,name:'vbc_est_mean',val:'0.0485'},{x:1897,y:1670,w:614,name:'vbc_ref_mean',val:'0.0490'},
         {x:2605,y:2215,w:548,name:'vbc_est_std',val:'0.0192'},{x:2605,y:2298,w:553,name:'vbc_ref_std',val:'0.0181'}]},
  scatter2Points, fit2Slope, fit2Intercept, fit2XRange, scatterTicksX12, scatterTicksY123, 2, 3, 'b2');
scatterPanel({box:[1833,2551,3200,3623], xRef:1849, xRefV:0.02, xPer:8530, yRef:2569, yRefV:0.2, yPer:5704,
  title:'Vegetation: Est. vs. Ref. (Abundance of Grass >= 0.6)', panel:'(b3)', panelPos:[3140,2658],
  eq:[1889,2590,2265,2695], eqSlope:'0.98', eqTail:' + \u22120.00', r2:'0.8701',
  stats:[{x:1902,y:2817,w:606,name:'vbc_est_mean',val:'0.0410'},{x:1902,y:2902,w:614,name:'vbc_ref_mean',val:'0.0420'},
         {x:2614,y:3443,w:550,name:'vbc_est_std',val:'0.0114'},{x:2614,y:3521,w:556,name:'vbc_ref_std',val:'0.0110'}]},
  scatter3Points, fit3Slope, fit3Intercept, fit3XRange, scatterTicksX3, scatterTicksY123, 2, 3, 'b3');
scatterPanel({box:[1824,3780,3217,4852], xRef:1841, xRefV:0.03, xPer:35680, yRef:3967, yRefV:0.07, yPer:18990,
  title:'Vegetation: Est. vs. Ref. (Abundance of Grass >= 0.8)', panel:'(b4)', panelPos:[3155,3890],
  eq:[1880,3824,2254,3926], eqSlope:'1.04', eqTail:' + \u22120.00', r2:'0.7621',
  stats:[{x:1894,y:4011,w:607,name:'vbc_est_mean',val:'0.0419'},{x:1894,y:4094,w:614,name:'vbc_ref_mean',val:'0.0410'},
         {x:2626,y:4679,w:550,name:'vbc_est_std',val:'0.0071'},{x:2626,y:4761,w:556,name:'vbc_ref_std',val:'0.0060'}]},
  scatter4Points, fit4Slope, fit4Intercept, fit4XRange, scatterTicksX4, scatterTicksY4, 3, 2, 'b4');

const xr = txt('Reference Backscattering Coefficient (0-1)', {x: 2520, y: 4975, 'text-anchor': 'middle', 'font-size': 44});


</script>
</body></html>
